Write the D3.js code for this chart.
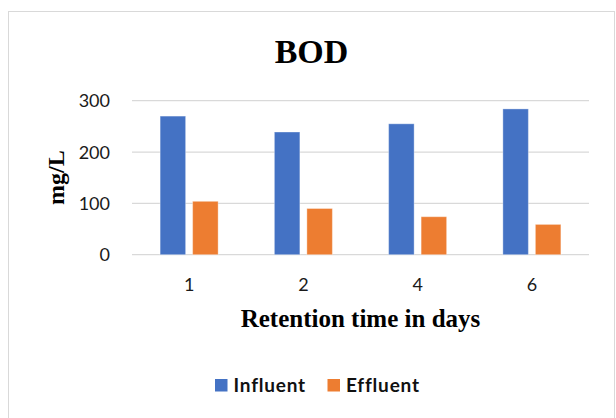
<!DOCTYPE html>
<html><head><meta charset="utf-8">
<script src="https://cdn.jsdelivr.net/npm/d3@7"></script>
<style>body{margin:0;background:#fff}svg{display:block}</style>
</head><body>
<script>
const categories = ["1", "2", "4", "6"];
const seriesNames = ["Influent", "Effluent"];
const influent = [270, 239, 255, 284];
const effluent = [104, 90, 74, 59];
const yTicks = [0, 100, 200, 300];
const colors = ["#4472C4", "#ED7D31"];

const W = 616, H = 418;
const svg = d3.select("body").append("svg").attr("width", W).attr("height", H);
svg.append("rect").attr("x", 8.5).attr("y", 11.5).attr("width", 606).attr("height", 420)
  .attr("fill", "#fff").attr("stroke", "#d9d9d9").attr("stroke-width", 1);

const plot = {l: 132, r: 589, t: 100.7, b: 254.7};
const x0 = d3.scaleBand().domain(categories).range([plot.l, plot.r]);
const x1 = d3.scaleBand().domain(seriesNames).range([-29, 29]).paddingInner(0.2154);
const y = d3.scaleLinear().domain([0, 300]).range([plot.b, plot.t]);

// gridlines
svg.append("g").selectAll("line").data(yTicks).join("line")
  .attr("x1", plot.l).attr("x2", plot.r)
  .attr("y1", d => y(d)).attr("y2", d => y(d))
  .attr("stroke", "#d9d9d9").attr("stroke-width", 1.3);

// y tick labels
svg.append("g").selectAll("text").data(yTicks).join("text")
  .attr("x", 110).attr("y", d => y(d)).attr("dy", "0.36em")
  .attr("text-anchor", "end").attr("font-family", "Lato, sans-serif")
  .attr("font-size", 18).attr("fill", "#1a1a1a").text(d => d);

const data = categories.map((c, i) => ({c, vals: [influent[i], effluent[i]]}));
const groups = svg.append("g").selectAll("g").data(data).join("g")
  .attr("transform", d => `translate(${x0(d.c) + x0.bandwidth() / 2},0)`);
groups.selectAll("rect").data(d => d.vals.map((v, j) => ({s: seriesNames[j], v, j}))).join("rect")
  .attr("x", d => x1(d.s)).attr("width", x1.bandwidth())
  .attr("y", d => y(d.v)).attr("height", d => y(0) - y(d.v))
  .attr("fill", d => colors[d.j])
  .attr("stroke", "rgba(255,255,255,0.35)").attr("stroke-width", 1);

// x labels
svg.append("g").selectAll("text").data(categories).join("text")
  .attr("x", d => x0(d) + x0.bandwidth() / 2).attr("y", 291)
  .attr("text-anchor", "middle").attr("font-family", "Lato, sans-serif")
  .attr("font-size", 18).attr("fill", "#1a1a1a").text(d => d);

// titles
svg.append("text").attr("x", 311.5).attr("y", 63).attr("text-anchor", "middle")
  .attr("font-family", "'Liberation Serif', 'Times New Roman', serif").attr("font-weight", "bold")
  .attr("font-size", 34).attr("fill", "#000").text("BOD");
svg.append("text").attr("x", (plot.l + plot.r) / 2).attr("y", 327).attr("text-anchor", "middle")
  .attr("font-family", "'Liberation Serif', 'Times New Roman', serif").attr("font-weight", "bold")
  .attr("font-size", 25).attr("fill", "#000").text("Retention time in days");
svg.append("text").attr("transform", `translate(63.5,${(plot.t + plot.b) / 2}) rotate(-90)`)
  .attr("text-anchor", "middle")
  .attr("font-family", "'Liberation Serif', 'Times New Roman', serif").attr("font-weight", "bold")
  .attr("font-size", 24).attr("fill", "#000").text("mg/L");

// legend
const legendX = [215, 327.5];
const lg = svg.append("g").selectAll("g").data(seriesNames).join("g")
  .attr("transform", (d, i) => `translate(${legendX[i]},379)`);
lg.append("rect").attr("width", 12.5).attr("height", 12.5).attr("fill", (d, i) => colors[i]);
lg.append("text").attr("x", 18.5).attr("y", 6.3).attr("dy", "0.36em")
  .attr("font-family", "Lato, sans-serif").attr("font-weight", "bold")
  .attr("font-size", 19).attr("letter-spacing", 0.8).attr("fill", "#111").text(d => d);
</script>
</body></html>
